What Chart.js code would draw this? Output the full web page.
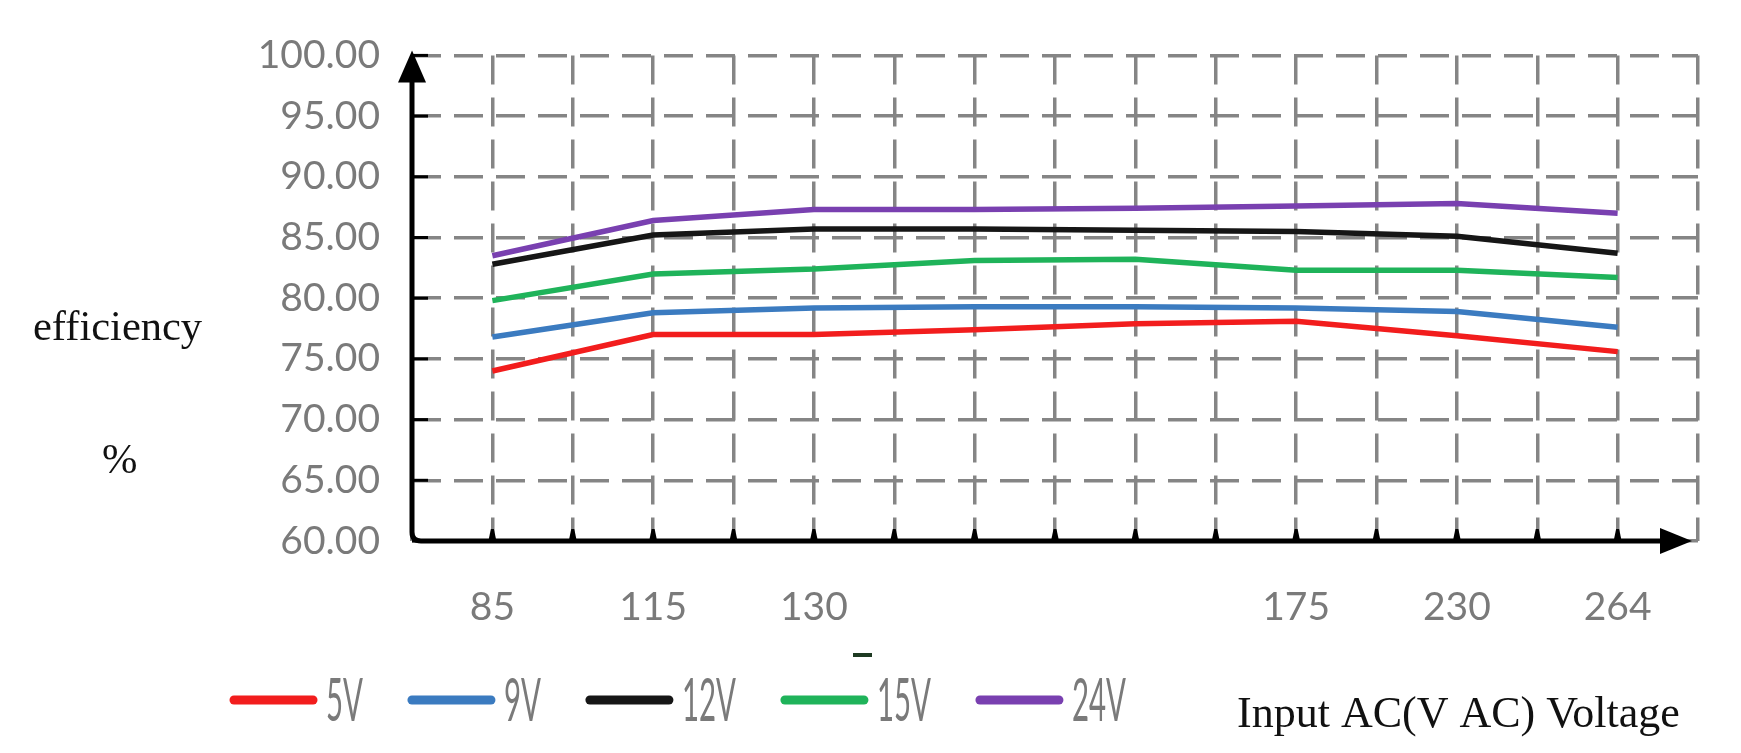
<!DOCTYPE html>
<html>
<head>
<meta charset="utf-8">
<script src="https://cdn.jsdelivr.net/npm/chart.js@4.4.1/dist/chart.umd.min.js"></script>
<style>
html,body{margin:0;padding:0;background:#fff;}
#wrap{position:relative;width:1741px;height:753px;}
</style>
</head>
<body>
<div id="wrap"><canvas id="c" width="1741" height="753"></canvas></div>
<script>
// ---- data ----
const categories = ['85', '115', '130', '', '', '175', '230', '264'];
const seriesNames = ['5V', '9V', '12V', '15V', '24V'];
const eff5V  = [74.0, 77.0, 77.0, 77.4, 77.9, 78.1, 76.9, 75.6];
const eff9V  = [76.8, 78.8, 79.2, 79.3, 79.3, 79.2, 78.9, 77.6];
const eff12V = [82.8, 85.2, 85.7, 85.7, 85.6, 85.5, 85.1, 83.7];
const eff15V = [79.8, 82.0, 82.4, 83.1, 83.2, 82.3, 82.3, 81.7];
const eff24V = [83.5, 86.4, 87.3, 87.3, 87.4, 87.6, 87.8, 87.0];
const yMin = 60, yMax = 100, yStep = 5;
const yTitleLines = ['efficiency', '%'];
const xTitle = 'Input AC(V AC) Voltage';

// ---- styles ----
const seriesColors = ['#f21d1d', '#3b7bc0', '#161616', '#1fb35a', '#7940b0'];
const seriesValues = [eff5V, eff9V, eff12V, eff15V, eff24V];

const datasets = seriesNames.map((name, k) => ({
  label: name,
  data: seriesValues[k].map((v, i) => ({x: i, y: v})),
  borderColor: seriesColors[k],
  backgroundColor: seriesColors[k],
  borderWidth: 5.5,
  pointRadius: 0,
  tension: 0,
  fill: false
}));

const decor = {
  id: 'decor',
  afterDraw(chart) {
    const ctx = chart.ctx, a = chart.chartArea, xs = chart.scales.x, ys = chart.scales.y;
    ctx.save();
    // axis tick marks
    ctx.strokeStyle = '#000';
    ctx.fillStyle = '#000';
    ctx.lineWidth = 3;
    ys.ticks.forEach(t => {
      const y = ys.getPixelForValue(t.value);
      ctx.beginPath(); ctx.moveTo(a.left, y); ctx.lineTo(a.left + 16, y); ctx.stroke();
    });
    xs.ticks.forEach(t => {
      const x = xs.getPixelForValue(t.value);
      if (x > a.right - 30 || x < a.left + 20) return;
      ctx.beginPath();
      ctx.moveTo(x - 4, a.bottom); ctx.lineTo(x - 1.5, a.bottom - 12);
      ctx.lineTo(x + 1.5, a.bottom - 12); ctx.lineTo(x + 4, a.bottom);
      ctx.closePath(); ctx.fill();
    });
    // axes with rounded corner
    ctx.lineWidth = 5;
    ctx.lineJoin = 'round';
    ctx.lineCap = 'butt';
    ctx.beginPath();
    ctx.moveTo(a.left, a.top + 20);
    ctx.lineTo(a.left, a.bottom - 9);
    ctx.quadraticCurveTo(a.left, a.bottom, a.left + 9, a.bottom);
    ctx.lineTo(a.right - 30, a.bottom);
    ctx.stroke();
    // arrow heads
    ctx.beginPath();
    ctx.moveTo(a.left, a.top - 5);
    ctx.lineTo(a.left - 14, a.top + 27);
    ctx.lineTo(a.left + 14, a.top + 27);
    ctx.closePath(); ctx.fill();
    ctx.beginPath();
    ctx.moveTo(a.right - 6, a.bottom);
    ctx.lineTo(a.right - 38, a.bottom - 13);
    ctx.lineTo(a.right - 38, a.bottom + 13);
    ctx.closePath(); ctx.fill();

    // axis titles (serif)
    ctx.fillStyle = '#111';
    ctx.textBaseline = 'alphabetic';
    ctx.textAlign = 'left';
    ctx.font = '42.5px "Liberation Serif", "Times New Roman", serif';
    ctx.fillText(yTitleLines[0], 33, 340);
    ctx.fillText(yTitleLines[1], 102, 473);
    ctx.font = '44px "Liberation Serif", "Times New Roman", serif';
    ctx.fillText(xTitle, 1237, 727);

    // stray mark
    ctx.fillStyle = '#1e3a22';
    ctx.fillRect(853, 653, 19, 4);

    // legend
    let x = 230;
    const yc = 700;
    chart.data.datasets.forEach(ds => {
      ctx.strokeStyle = ds.borderColor;
      ctx.lineWidth = 9;
      ctx.lineCap = 'round';
      ctx.beginPath(); ctx.moveTo(x + 4, yc); ctx.lineTo(x + 83, yc); ctx.stroke();
      ctx.save();
      ctx.font = '60px Lato, sans-serif';
      const sx = 0.49;
      const w = ctx.measureText(ds.label).width * sx;
      ctx.translate(x + 96, 721);
      ctx.scale(sx, 1);
      ctx.fillStyle = '#7a7a7a';
      ctx.textBaseline = 'alphabetic';
      ctx.fillText(ds.label, 0, 0);
      ctx.restore();
      x += 96 + w + 45;
    });
    ctx.restore();
  }
};

new Chart(document.getElementById('c'), {
  type: 'line',
  data: { datasets },
  options: {
    responsive: false,
    animation: false,
    layout: { padding: { top: 52, right: 43, left: 0, bottom: 0 } },
    plugins: { legend: { display: false }, tooltip: { enabled: false } },
    scales: {
      x: {
        type: 'linear',
        min: -0.5,
        max: categories.length - 0.5,
        afterFit: s => { s.height = 212; },
        grid: { color: '#858585', lineWidth: 3.5, drawTicks: false },
        border: { display: false, dash: [29, 13] },
        ticks: {
          stepSize: 0.5,
          maxTicksLimit: 40,
          autoSkip: false,
          maxRotation: 0,
          padding: 43,
          color: '#7a7a7a',
          font: { family: 'Lato', size: 39 },
          callback: v => (Number.isInteger(v) && categories[v] !== undefined) ? categories[v] : ''
        }
      },
      y: {
        min: yMin,
        max: yMax,
        afterFit: s => { s.width = 412; },
        grid: { color: '#858585', lineWidth: 3.5, drawTicks: false },
        border: { display: false, dash: [29, 13] },
        ticks: {
          stepSize: yStep,
          padding: 32,
          color: '#7a7a7a',
          font: { family: 'Lato', size: 39 },
          callback: v => v.toFixed(2)
        }
      }
    }
  },
  plugins: [decor]
});
</script>
</body>
</html>
